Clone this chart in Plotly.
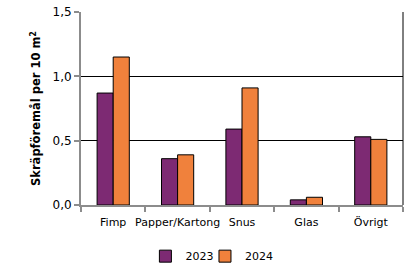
import plotly.graph_objects as go

categories = ["Fimp", "Papper/Kartong", "Snus", "Glas", "Övrigt"]
values_2023 = [0.87, 0.36, 0.59, 0.04, 0.53]
values_2024 = [1.15, 0.39, 0.91, 0.06, 0.51]
tick_vals = [0, 0.5, 1.0, 1.5]
tick_text = ["0,0", "0,5", "1,0", "1,5"]

PURPLE = "#7D2A73"
ORANGE = "#F0813C"
FONT = "DejaVu Sans"

fig = go.Figure()
fig.add_trace(go.Bar(name="2023", x=categories, y=values_2023, legend="legend",
                     marker=dict(color=PURPLE, line=dict(color="black", width=1))))
fig.add_trace(go.Bar(name="2024", x=categories, y=values_2024, legend="legend2",
                     marker=dict(color=ORANGE, line=dict(color="black", width=1))))

leg_common = dict(orientation="h", xanchor="left", y=-0.265, yanchor="middle",
                  font=dict(size=11), itemwidth=30, bgcolor="rgba(0,0,0,0)")

fig.update_layout(
    width=417, height=266,
    margin=dict(l=81, r=14, t=12, b=61, autoexpand=False),
    paper_bgcolor="white", plot_bgcolor="white",
    barmode="group", bargap=0.5, bargroupgap=0,
    font=dict(family=FONT, color="black", size=11),
    showlegend=True,
    legend=dict(x=0.20, **leg_common),
    legend2=dict(x=0.385, **leg_common),
    xaxis=dict(
        showline=True, linecolor="#8C8C8C", linewidth=2,
        ticks="outside", tickson="boundaries", ticklen=5, tickwidth=2, tickcolor="#8C8C8C",
        tickfont=dict(size=11), tickangle=0, showgrid=False, automargin=False,
        ticklabelstandoff=6,
    ),
    yaxis=dict(
        range=[0, 1.5], tickvals=tick_vals, ticktext=tick_text,
        showline=True, linecolor="#8C8C8C", linewidth=2,
        ticks="outside", ticklen=5, tickwidth=2, tickcolor="#8C8C8C",
        showgrid=True, gridcolor="black", gridwidth=1, zeroline=False,
        tickfont=dict(size=12), automargin=False,
        title=dict(text="<b>Skräpföremål per 10 m<sup>2</sup></b>", font=dict(size=11.5), standoff=9),
    ),
    shapes=[dict(type="line", xref="paper", yref="paper", x0=1, x1=1, y0=0, y1=1,
                 line=dict(color="black", width=1))],
)

fig.write_html("out.html")
